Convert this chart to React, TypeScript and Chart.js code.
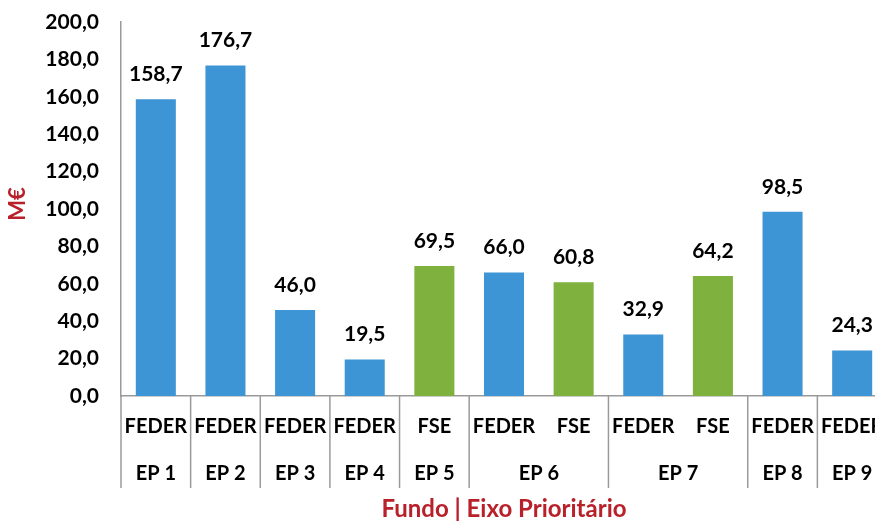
import React, { useEffect, useRef } from "react";
import { Chart, registerables } from "chart.js";

Chart.register(...registerables);

const funds = ["FEDER", "FEDER", "FEDER", "FEDER", "FSE", "FEDER", "FSE", "FEDER", "FSE", "FEDER", "FEDER"];
const eixos = ["EP 1", "EP 2", "EP 3", "EP 4", "EP 5", "EP 6", "EP 6", "EP 7", "EP 7", "EP 8", "EP 9"];
const values = [158.7, 176.7, 46.0, 19.5, 69.5, 66.0, 60.8, 32.9, 64.2, 98.5, 24.3];
const yTicks = [0, 20, 40, 60, 80, 100, 120, 140, 160, 180, 200];

const FUND_COLORS: Record<string, string> = { FEDER: "#3E95D5", FSE: "#7FB13F" };
const RED = "#B8202A";
const FONT = "Lato, 'Open Sans', sans-serif";

const fmt = (v: number) => v.toFixed(1).replace(".", ",");

const overlay = {
  id: "overlay",
  afterDraw(chart: any) {
    const { ctx, chartArea } = chart;
    const xs = chart.scales.x;
    const meta = chart.getDatasetMeta(0);
    const px = funds.map((_, i) => xs.getPixelForValue(i));
    const half = (px[1] - px[0]) / 2;
    const bottom = chartArea.bottom;
    ctx.save();
    // data labels
    ctx.fillStyle = "#000";
    ctx.font = `bold 21px ${FONT}`;
    ctx.textAlign = "center";
    ctx.textBaseline = "middle";
    meta.data.forEach((bar: any, i: number) => {
      ctx.fillText(fmt(values[i]), bar.x, bar.y - 25);
    });
    // fund labels
    ctx.font = `bold 20px ${FONT}`;
    funds.forEach((f, i) => ctx.fillText(f, px[i], bottom + 31));
    // groups
    const groups: { label: string; start: number; end: number }[] = [];
    eixos.forEach((e, i) => {
      const g = groups[groups.length - 1];
      if (g && g.label === e) g.end = i;
      else groups.push({ label: e, start: i, end: i });
    });
    ctx.strokeStyle = "#9A9A9A";
    ctx.lineWidth = 1.5;
    groups.forEach((g) => {
      const cx = (px[g.start] + px[g.end]) / 2;
      ctx.fillText(g.label, cx, bottom + 78);
    });
    const bounds: number[] = [px[0] - half];
    groups.forEach((g) => bounds.push(px[g.end] + half));
    bounds.forEach((b) => {
      ctx.beginPath();
      ctx.moveTo(b, bottom);
      ctx.lineTo(b, bottom + 92);
      ctx.stroke();
    });
    // x title
    ctx.fillStyle = RED;
    ctx.font = `bold 24px ${FONT}`;
    ctx.fillText("Fundo | Eixo Prioritário", (chartArea.left + chartArea.right) / 2, 509);
    // y title
    ctx.font = `bold 22px ${FONT}`;
    ctx.translate(18, 204);
    ctx.rotate(-Math.PI / 2);
    ctx.fillText("M€", 0, 0);
    ctx.restore();
  },
};

export default function App() {
  const ref = useRef<HTMLCanvasElement>(null);
  useEffect(() => {
    if (!ref.current) return;
    const chart = new Chart(ref.current, {
      type: "bar",
      data: {
        labels: funds.map((f, i) => `${f} ${eixos[i]}`),
        datasets: [
          {
            data: values,
            backgroundColor: funds.map((f) => FUND_COLORS[f]),
            barPercentage: 0.575,
            categoryPercentage: 1,
          },
        ],
      },
      options: {
        responsive: false,
        animation: false,
        devicePixelRatio: 1,
        layout: { padding: { top: 22, right: 0, bottom: 126, left: 0 } },
        plugins: { legend: { display: false }, tooltip: { enabled: false } },
        scales: {
          x: {
            ticks: { display: false },
            grid: { display: false, drawTicks: false },
            border: { display: true, color: "#9A9A9A", width: 1.5 },
          },
          y: {
            min: 0,
            max: 200,
            afterBuildTicks: (s: any) => {
              s.ticks = yTicks.map((v) => ({ value: v }));
            },
            afterFit: (s: any) => {
              s.width = 121;
              s.paddingTop = 0;
              s.paddingBottom = 0;
            },
            ticks: {
              callback: (v: any) => fmt(Number(v)),
              color: "#000",
              font: { family: FONT, size: 21, weight: "bold" },
              padding: 22,
            },
            grid: { display: false, drawTicks: false },
            border: { display: true, color: "#9A9A9A", width: 1.5 },
          },
        },
      },
      plugins: [overlay],
    });
    return () => chart.destroy();
  }, []);
  return (
    <div style={{ position: "fixed", left: 0, top: 0, width: 875, height: 522, overflow: "hidden", background: "#fff" }}>
      <canvas ref={ref} width={887} height={522} style={{ display: "block" }} />
    </div>
  );
}
